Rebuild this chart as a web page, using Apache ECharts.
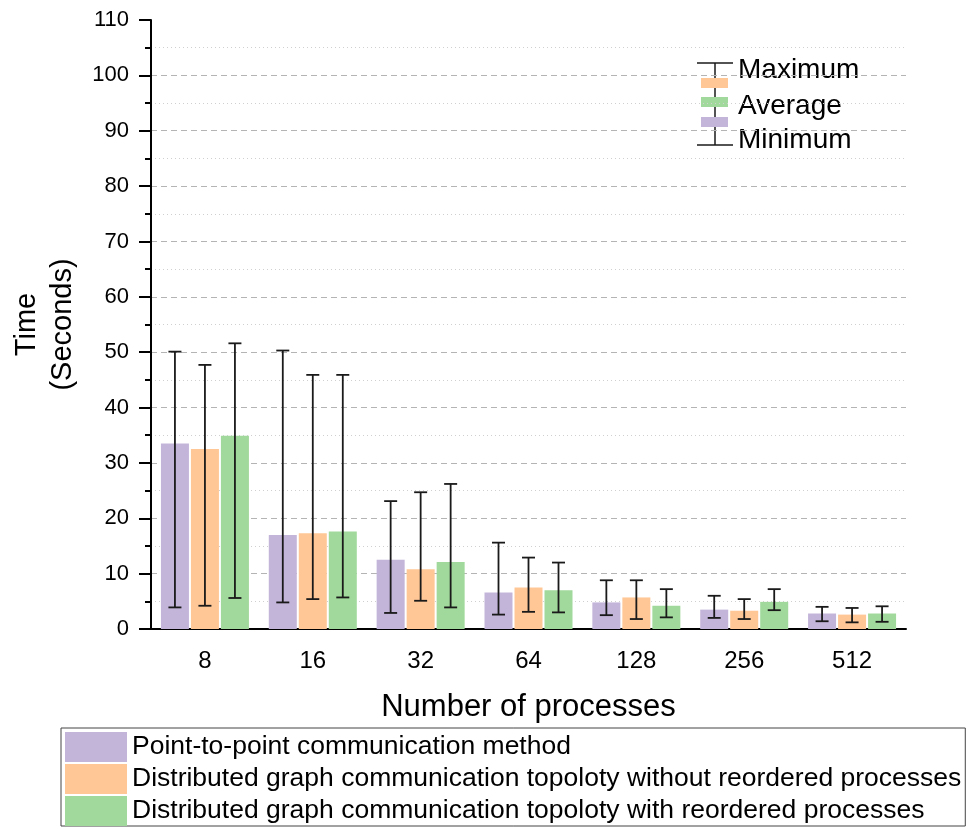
<!DOCTYPE html>
<html>
<head>
<meta charset="utf-8">
<script src="https://cdn.jsdelivr.net/npm/echarts@6/dist/echarts.min.js"></script>
<style>
  html, body { margin: 0; padding: 0; background: #fff; }
  #main { width: 970px; height: 829px; }
</style>
</head>
<body>
<div id="main"></div>
<script>
var categories = ['8', '16', '32', '64', '128', '256', '512'];

var seriesNames = [
  'Point-to-point communication method',
  'Distributed graph communication topoloty without reordered processes',
  'Distributed graph communication topoloty with reordered processes'
];

// average / maximum / minimum, seconds
var p2pAvg = [33.5, 17.0, 12.5, 6.6, 4.8, 3.5, 2.8];
var p2pMax = [50.1, 50.3, 23.1, 15.6, 8.8, 6.0, 4.0];
var p2pMin = [3.9, 4.8, 2.9, 2.6, 2.5, 2.0, 1.4];

var dgAvg = [32.5, 17.3, 10.8, 7.5, 5.7, 3.3, 2.6];
var dgMax = [47.7, 45.9, 24.7, 12.9, 8.8, 5.4, 3.8];
var dgMin = [4.2, 5.4, 5.1, 3.1, 1.8, 1.8, 1.2];

var dgrAvg = [34.9, 17.6, 12.1, 7.0, 4.2, 4.9, 2.8];
var dgrMax = [51.6, 45.9, 26.2, 12.0, 7.2, 7.2, 4.1];
var dgrMin = [5.6, 5.7, 3.9, 3.0, 2.1, 3.4, 1.3];

var colors = ['#c3b4d9', '#ffc796', '#a0d99b'];

var font = 'Liberation Sans, Arial, sans-serif';
var barWidth = 28;
var barGapPx = 2;

var myChart = echarts.init(document.getElementById('main'));

function errData(mins, maxs) {
  var out = [];
  for (var i = 0; i < mins.length; i++) {
    out.push([i, mins[i], maxs[i]]);
  }
  return out;
}

function errSeries(idx, mins, maxs) {
  var offset = (idx - 1) * (barWidth + barGapPx);
  return {
    type: 'custom',
    xAxisIndex: 0,
    z: 5,
    data: errData(mins, maxs),
    renderItem: function (params, api) {
      var c = api.value(0);
      var x = api.coord([c, 0])[0] + offset;
      var yLo = api.coord([c, api.value(1)])[1];
      var yHi = api.coord([c, api.value(2)])[1];
      var hw = 6.5;
      var st = { stroke: '#1a1a1a', lineWidth: 1.8 };
      return {
        type: 'group',
        children: [
          { type: 'line', shape: { x1: x, y1: yHi, x2: x, y2: yLo }, style: st },
          { type: 'line', shape: { x1: x - hw, y1: yHi, x2: x + hw, y2: yHi }, style: st },
          { type: 'line', shape: { x1: x - hw, y1: yLo, x2: x + hw, y2: yLo }, style: st }
        ]
      };
    }
  };
}

var option = {
  animation: false,
  textStyle: { fontFamily: font },
  grid: {
    left: 151,
    top: 20,
    width: 755,
    height: 609
  },
  legend: {
    data: seriesNames,
    orient: 'vertical',
    left: 61,
    top: 728,
    padding: [4, 4, 0, 4],
    itemWidth: 62,
    itemHeight: 30,
    itemGap: 2,
    icon: 'rect',
    borderColor: '#444',
    borderWidth: 1,
    selectedMode: false,
    textStyle: { fontSize: 26.5, color: '#000', fontFamily: font }
  },
  xAxis: [
    {
      type: 'category',
      data: categories,
      position: 'bottom',
      name: 'Number of processes',
      nameLocation: 'middle',
      nameGap: 63,
      nameTextStyle: { fontSize: 31, color: '#000', fontFamily: font },
      axisLine: { lineStyle: { color: '#000', width: 2 } },
      axisTick: { alignWithLabel: true, length: 10, lineStyle: { color: '#000', width: 2 } },
      axisLabel: { fontSize: 24, color: '#000', margin: 20 },
      splitLine: { show: false }
    },
    {
      type: 'category',
      data: categories,
      position: 'bottom',
      axisLine: { show: false },
      axisTick: { length: 5, lineStyle: { color: '#000', width: 2 } },
      axisLabel: { show: false },
      splitLine: { show: false }
    }
  ],
  yAxis: {
    type: 'value',
    min: 0,
    max: 110,
    interval: 10,
    name: 'Time\n(Seconds)',
    nameLocation: 'middle',
    nameGap: 67,
    nameTextStyle: { fontSize: 29, color: '#000', lineHeight: 36, fontFamily: font },
    axisLine: { show: true, lineStyle: { color: '#000', width: 2 } },
    axisTick: { show: true, length: 12, lineStyle: { color: '#000', width: 2 } },
    minorTick: { show: true, splitNumber: 2, length: 6, lineStyle: { color: '#000', width: 2 } },
    axisLabel: { fontSize: 22, color: '#000', margin: 22 },
    splitLine: {
      show: true,
      showMaxLine: false,
      lineStyle: { color: '#b4b4b4', type: [6, 4], width: 1 }
    },
    minorSplitLine: {
      show: true,
      lineStyle: { color: '#d0d0d0', type: [1, 3], width: 1 }
    }
  },
  series: [
    {
      name: seriesNames[0],
      type: 'bar',
      barWidth: barWidth,
      barGap: (barGapPx / barWidth * 100) + '%',
      itemStyle: { color: colors[0] },
      data: p2pAvg
    },
    {
      name: seriesNames[1],
      type: 'bar',
      barWidth: barWidth,
      barGap: (barGapPx / barWidth * 100) + '%',
      itemStyle: { color: colors[1] },
      data: dgAvg
    },
    {
      name: seriesNames[2],
      type: 'bar',
      barWidth: barWidth,
      barGap: (barGapPx / barWidth * 100) + '%',
      itemStyle: { color: colors[2] },
      data: dgrAvg
    },
    errSeries(0, p2pMin, p2pMax),
    errSeries(1, dgMin, dgMax),
    errSeries(2, dgrMin, dgrMax)
  ],
  graphic: [
    // key for the error bar glyph (top right)
    { type: 'line', shape: { x1: 715, y1: 63, x2: 715, y2: 145 }, style: { stroke: '#1a1a1a', lineWidth: 1.5 } },
    { type: 'line', shape: { x1: 697, y1: 63, x2: 733, y2: 63 }, style: { stroke: '#1a1a1a', lineWidth: 1.5 } },
    { type: 'line', shape: { x1: 697, y1: 145, x2: 733, y2: 145 }, style: { stroke: '#1a1a1a', lineWidth: 1.5 } },
    { type: 'rect', shape: { x: 701, y: 78, width: 27, height: 10 }, style: { fill: colors[1] } },
    { type: 'rect', shape: { x: 701, y: 97, width: 27, height: 10 }, style: { fill: colors[2] } },
    { type: 'rect', shape: { x: 701, y: 117, width: 27, height: 10 }, style: { fill: colors[0] } },
    { type: 'text', left: 738, top: 56, style: { text: 'Maximum', fontSize: 28, fill: '#000', fontFamily: font } },
    { type: 'text', left: 738, top: 92, style: { text: 'Average', fontSize: 28, fill: '#000', fontFamily: font } },
    { type: 'text', left: 738, top: 126, style: { text: 'Minimum', fontSize: 28, fill: '#000', fontFamily: font } }
  ]
};

option && myChart.setOption(option);
</script>
</body>
</html>
